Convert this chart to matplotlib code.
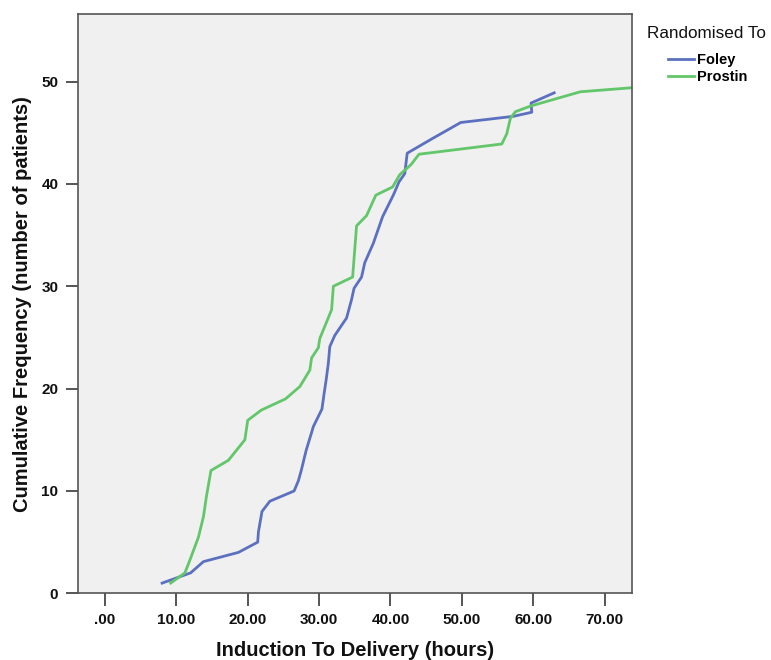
import matplotlib
matplotlib.use("Agg")
import matplotlib.pyplot as plt
from matplotlib.lines import Line2D

plt.rcParams['font.family'] = ['Liberation Sans', 'DejaVu Sans']

# Foley: (hours, cumulative patients)
foley_x = [8.0, 12.0, 13.8, 18.7, 21.4, 21.5, 22.0, 23.1, 26.5, 27.1, 27.5, 28.2,
           28.9, 29.2, 30.4, 30.7, 31.0, 31.3, 31.5, 32.2, 33.85, 34.55, 34.9,
           35.95, 36.4, 37.6, 38.9, 40.4, 41.2, 42.0, 42.35, 45.8, 49.85, 57.2,
           59.8, 59.7, 62.95]
foley_y = [1.0, 2.0, 3.1, 4.0, 5.0, 6.0, 8.0, 9.0, 10.0, 11.0, 12.0, 14.0,
           15.6, 16.3, 18.0, 19.5, 20.9, 22.5, 24.1, 25.2, 26.9, 28.7, 29.8,
           30.9, 32.3, 34.2, 36.8, 38.9, 40.2, 41.0, 43.0, 44.4, 46.0, 46.6,
           47.0, 47.9, 48.9]

# Prostin
prostin_x = [9.2, 11.2, 11.9, 13.1, 13.8, 14.2, 14.85, 17.3, 19.6, 20.0, 21.9,
             25.3, 27.3, 28.7, 28.95, 29.9, 30.1, 31.75, 32.0, 34.7, 35.25,
             36.65, 37.95, 40.3, 41.3, 42.9, 44.0, 55.6, 56.3, 56.8, 57.5, 59.6,
             66.6, 73.9, 85.0]
prostin_y = [1.0, 2.0, 3.25, 5.5, 7.5, 9.4, 12.0, 13.0, 15.0, 16.9, 17.9,
             19.0, 20.2, 21.8, 23.0, 24.0, 24.9, 27.7, 30.0, 30.9, 35.9,
             36.9, 38.9, 39.7, 40.9, 41.9, 42.9, 43.9, 44.9, 46.4, 47.05, 47.6,
             49.0, 49.4, 50.0]

x_ticks = [0, 10, 20, 30, 40, 50, 60, 70]
x_tick_labels = ['.00', '10.00', '20.00', '30.00', '40.00', '50.00', '60.00', '70.00']
y_ticks = [0, 10, 20, 30, 40, 50]

legend_title = 'Randomised To'
series_names = ['Foley', 'Prostin']
series_colors = ['#5c70c0', '#62c66a']

fig = plt.figure(figsize=(7.71, 6.60), dpi=100)
ax = fig.add_axes([0.1008, 0.101, 0.7185, 0.8778])
ax.set_facecolor('#f0f0f0')

ax.plot(foley_x, foley_y, color=series_colors[0], lw=2.0, solid_joinstyle='round')
ax.plot(prostin_x, prostin_y, color=series_colors[1], lw=2.0, solid_joinstyle='round')

ax.set_xlim(-3.82, 73.8)
ax.set_ylim(0, 56.6)
ax.set_xticks(x_ticks)
ax.set_xticklabels(x_tick_labels)
ax.set_yticks(y_ticks)

for s in ax.spines.values():
    s.set_color('#555555')
    s.set_linewidth(1.2)

ax.tick_params(axis='both', direction='out', length=9, width=1.4, color='#555555',
               labelsize=11, labelcolor='#111111')
ax.tick_params(axis='x', pad=5)
ax.tick_params(axis='y', pad=5)
for lab in ax.get_xticklabels() + ax.get_yticklabels():
    lab.set_fontweight('bold')

ax.set_xlabel('Induction To Delivery (hours)', fontsize=14.5, fontweight='bold',
              labelpad=10, color='#111111')
ax.set_ylabel('Cumulative Frequency (number of patients)', fontsize=14.5,
              fontweight='bold', labelpad=7, color='#111111')

# legend
handles = [Line2D([0], [0], color=c, lw=2.0) for c in series_colors]
leg = fig.legend(handles, series_names, loc='upper left',
                 bbox_to_anchor=(668 / 771, 1 - 53 / 660),
                 frameon=False, prop={'weight': 'bold', 'size': 10.5},
                 handlelength=1.75, handletextpad=0.25, labelspacing=0.22,
                 borderpad=0.0, borderaxespad=0.0)
fig.text(647 / 771, 1 - 34 / 660, legend_title, fontsize=12.3,
         va='center', ha='left', color='#111111')

fig.savefig('out.png', dpi=100)
